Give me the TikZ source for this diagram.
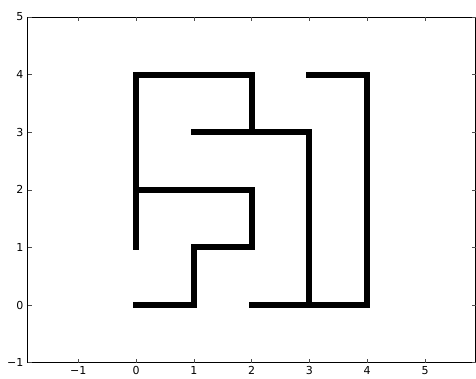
\documentclass[tikz,border=0pt]{standalone}
\usepackage{fontspec}
\setmainfont{DejaVu Sans}
\begin{document}
\begin{tikzpicture}[x=1pt,y=1pt,
  seg/.style={line width=6pt,line cap=rect,line join=miter},
  tick/.style={line width=0.6pt,black!70},
  lab/.style={font=\fontsize{11}{12}\selectfont,inner sep=0pt}]
\useasboundingbox (0,0) rectangle (476,378);
\fill[white] (0,0) rectangle (476,378);
% data scope: x=0 at px 136, y=0 at px 73 (from bottom)
\begin{scope}[shift={(136,73)},x=57.8pt,y=57.6pt]
  \draw[seg] (0,1) -- (0,4) -- (2,4) -- (2,3);
  \draw[seg] (1,3) -- (3,3) -- (3,0);
  \draw[seg] (0,2) -- (2,2) -- (2,1) -- (1,1) -- (1,0) -- (0,0);
  \draw[seg] (3,4) -- (4,4) -- (4,0) -- (2,0);
  % frame
  \coordinate (ll) at (-1.875,-1);
  \coordinate (ur) at (5.875,5);
  \draw[line width=0.9pt] (ll) rectangle (ur);
  \foreach \x/\t in {-1/−1,0/0,1/1,2/2,3/3,4/4,5/5}{
    \draw[tick] (\x,-1) -- ++(0,4pt);
    \draw[tick] (\x,5) -- ++(0,-4pt);
    \node[lab,anchor=north] (xl\x) at ([yshift=-4pt]\x,-1) {\t};
  }
  \foreach \y/\t in {-1/−1,0/0,1/1,2/2,3/3,4/4,5/5}{
    \draw[tick] (-1.875,\y) -- ++(4pt,0);
    \draw[tick] (5.875,\y) -- ++(-4pt,0);
    \node[lab,anchor=east] (yl\y) at ([xshift=-4pt]-1.875,\y) {\t};
  }
\end{scope}
\end{tikzpicture}
\end{document}
